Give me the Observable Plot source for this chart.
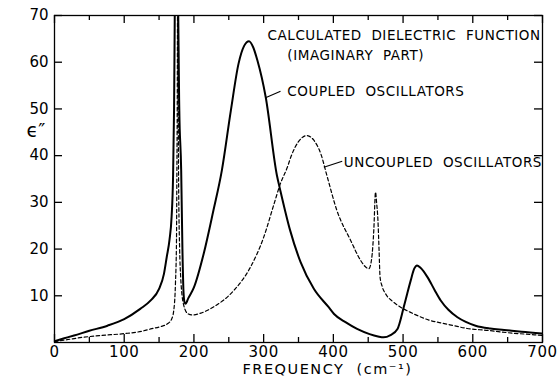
<!DOCTYPE html>
<html><head><meta charset="utf-8">
<script src="https://cdn.jsdelivr.net/npm/d3@7"></script>
<script src="https://cdn.jsdelivr.net/npm/@observablehq/plot@0.6"></script>
<style>html,body{margin:0;padding:0;background:#fff}</style>
</head><body><div id="chart"></div>
<script>
// Coupled oscillators (solid)
const coupledFreq = [0,14,28,50,76,100,123,138,150,157,161,165,168,170,171.5,172.5,174,176.5,177.5,179,181.7,183.5,185,186.5,188,192,200,214,228,240,253,264,272,279,285,291,303,319,324,338,353,372,393,401,418,434,452,464,472,482,492,501,506,511,516,520,525,535,545,554,565,578,590,604,625,645,670,700];
const coupledEps  = [0.3,0.9,1.5,2.5,3.6,5.0,7.2,9.0,11.5,14.7,18.3,22,27,35,50,70,100,100,70,50,37,20,11,8.6,8.3,9.5,11.8,19.0,28.3,36.8,49.7,59.7,63.5,64.5,63.2,60.4,52.5,35.8,32.5,24.0,17.2,11.5,7.6,6.1,4.3,2.9,1.8,1.3,1.1,1.6,2.9,7.6,10.5,13.3,15.8,16.5,16.0,14.0,11.3,9.0,7.0,5.4,4.4,3.6,3.0,2.7,2.3,1.9];
// Uncoupled oscillators (dashed)
const uncoupledFreq = [0,18,40,66,100,125,138,152,162,168,171,173.5,175,175.5,176.3,176.8,177.3,178,179.5,181,183,185,188,192,197.5,210,228,257,281,300,315,324,334,339,350,362,372,382,391,405,425,439,446,451,455,458,460.5,462,464,465.5,467,470,475,485,496,510,520,537,554,573,592,621,650,675,700];
const uncoupledEps  = [0.2,0.6,1.1,1.5,1.9,2.4,2.9,3.4,4.0,5.0,6.8,12.6,22,35,60,90,60,35,20,14,10,8.2,6.8,6.1,5.9,6.3,7.6,11.1,16.1,22.5,29.7,34.0,37.5,39.7,43,44.3,43.3,40.4,35.6,28.3,21.8,17.6,16.2,15.8,18,24,32.2,30,26,20,14.0,12,10.4,8.8,7.6,6.5,5.8,4.8,4.2,3.6,3.0,2.6,2.1,1.8,1.5];

const xTicks = [0,100,200,300,400,500,600,700];
const xMinorTicks = [50,150,250,350,450,550,650];
const yTicks = [10,20,30,40,50,60,70];
const yTickLabels = ["10","20","30","40","50","60","70"];

const xLabel = "FREQUENCY  (cm\u207B\u00B9)";
const yLabel = "\u03F5\u2033";
const noteTexts = ["CALCULATED  DIELECTRIC  FUNCTION", "(IMAGINARY  PART)", "COUPLED  OSCILLATORS", "UNCOUPLED  OSCILLATORS"];
const noteX = [305.6, 334, 334, 415];
const noteY = [65.7, 61.4, 53.6, 38.6];
const leaderX1 = [302.7, 386.3];
const leaderY1 = [52.4, 37.5];
const leaderX2 = [324.2, 412.7];
const leaderY2 = [53.8, 38.8];

const coupled = coupledFreq.map((f, i) => ({f, e: coupledEps[i]}));
const uncoupled = uncoupledFreq.map((f, i) => ({f, e: uncoupledEps[i]}));
const notes = noteTexts.map((t, i) => ({t, x: noteX[i], y: noteY[i]}));
const leaders = leaderX1.map((x, i) => ({x1: x, y1: leaderY1[i], x2: leaderX2[i], y2: leaderY2[i]}));

const ink = "#000";
const font = "'DejaVu Sans', sans-serif";

// layout
const W = 559, H = 381, mL = 54, mR = 17, mT = 15, mB = 39;
const xDomain = [0, 700], yDomain = [0, 70];
// tick lengths converted from pixels to data units
const pxToY = (yDomain[1] - yDomain[0]) / (H - mT - mB);
const pxToX = (xDomain[1] - xDomain[0]) / (W - mL - mR);
const majorY = 8 * pxToY, minorY = 5 * pxToY, majorX = 8 * pxToX;
const tickStyle = {stroke: ink, strokeWidth: 1.3};

const chart = Plot.plot({
  width: W, height: H,
  marginLeft: mL, marginRight: mR, marginTop: mT, marginBottom: mB,
  x: {domain: xDomain},
  y: {domain: yDomain},
  style: {fontFamily: font, fontSize: "15px", color: ink, background: "#fff"},
  marks: [
    Plot.line(uncoupled, {x: "f", y: "e", stroke: ink, strokeWidth: 1.2, strokeDasharray: "3.5,2.5", curve: "monotone-x", clip: true}),
    Plot.line(coupled, {x: "f", y: "e", stroke: ink, strokeWidth: 2, curve: "monotone-x", clip: true}),
    Plot.frame({stroke: ink, strokeWidth: 1.3}),
    // inward ticks on all four sides
    Plot.ruleX(xTicks, {x: d => d, y1: () => yDomain[0], y2: () => yDomain[0] + majorY, ...tickStyle}),
    Plot.ruleX(xMinorTicks, {x: d => d, y1: () => yDomain[0], y2: () => yDomain[0] + minorY, ...tickStyle}),
    Plot.ruleX(xTicks, {x: d => d, y1: () => yDomain[1], y2: () => yDomain[1] - majorY, ...tickStyle}),
    Plot.ruleX(xMinorTicks, {x: d => d, y1: () => yDomain[1], y2: () => yDomain[1] - minorY, ...tickStyle}),
    Plot.ruleY(yTicks, {y: d => d, x1: () => xDomain[0], x2: () => xDomain[0] + majorX, ...tickStyle}),
    Plot.ruleY(yTicks, {y: d => d, x1: () => xDomain[1], x2: () => xDomain[1] - majorX, ...tickStyle}),
    // tick labels
    Plot.axisX({anchor: "bottom", ticks: xTicks, tickSize: 0, tickPadding: 4, label: null, fontSize: 15, tickFormat: d => String(d)}),
    Plot.axisY({anchor: "left", ticks: yTicks, tickSize: 0, tickPadding: 6, label: null, fontSize: 15, tickFormat: d => yTickLabels[yTicks.indexOf(d)]}),
    Plot.text([xLabel], {text: d => d, frameAnchor: "bottom", dy: 31, dx: 29, fontSize: 14.5, fill: ink}),
    Plot.text([yLabel], {text: d => d, frameAnchor: "left", y: () => 45.4, dx: -28, fontSize: 19, fill: ink}),
    Plot.text(notes, {x: "x", y: "y", text: "t", textAnchor: "start", fontSize: 13.5, fill: ink}),
    Plot.link(leaders, {x1: "x1", y1: "y1", x2: "x2", y2: "y2", stroke: ink, strokeWidth: 1.1})
  ]
});
// letter spacing tweaks (matched by content)
d3.select(chart).selectAll("text").each(function() {
  const t = this.textContent;
  if (noteTexts.includes(t)) this.style.letterSpacing = "0.55px";
  else if (t === xLabel) this.style.letterSpacing = "1.5px";
  else if (xTicks.map(String).includes(t)) this.style.letterSpacing = "0.6px";
});
document.getElementById("chart").appendChild(chart);
</script>
</body></html>
